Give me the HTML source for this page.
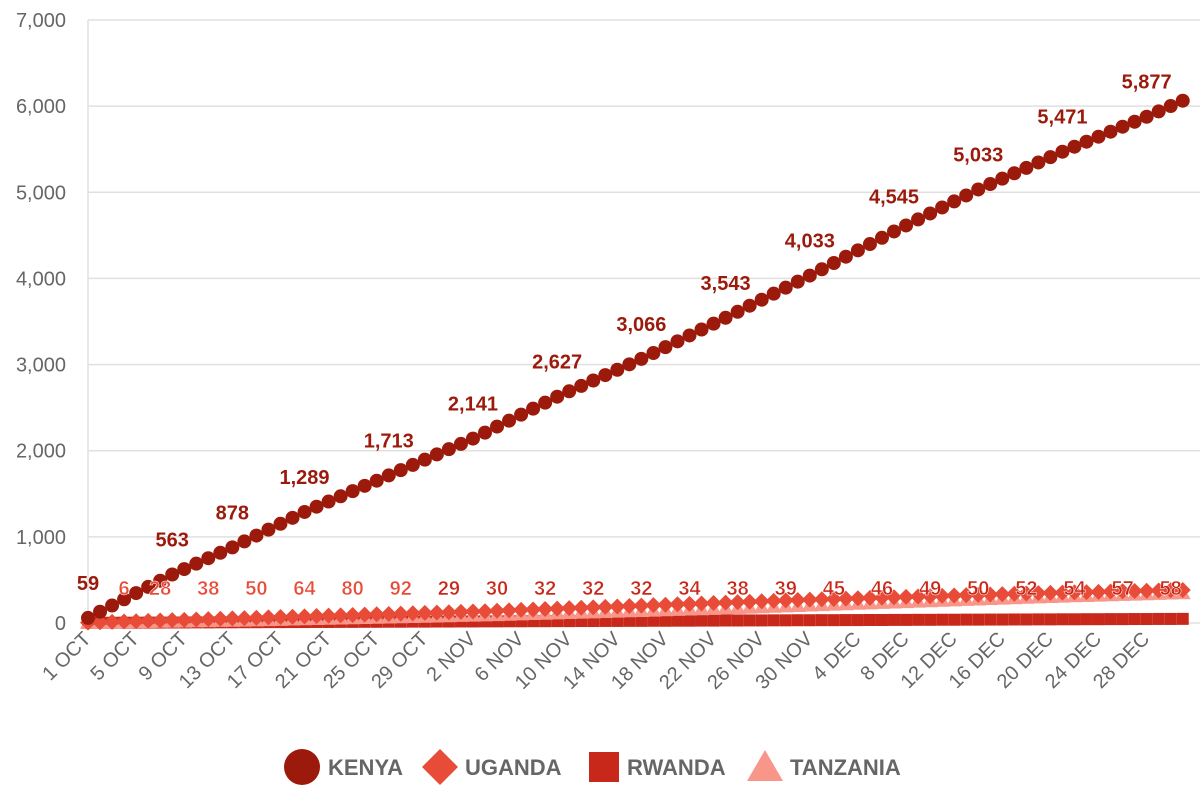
<!DOCTYPE html>
<html><head><meta charset="utf-8"><style>
html,body{margin:0;padding:0;background:#fff;}
svg{display:block;font-family:"Liberation Sans",sans-serif;}
</style></head><body>
<svg id="chart" width="1200" height="800"></svg>
<script>
const kenya=[59,131,203,275,347,419,491,563,626,689,752,815,878,947,1015,1084,1152,1221,1289,1350,1410,1471,1531,1592,1652,1713,1774,1835,1896,1957,2018,2079,2141,2210,2280,2349,2419,2488,2558,2627,2690,2752,2815,2878,2940,3003,3066,3134,3202,3270,3338,3407,3475,3543,3613,3683,3753,3823,3893,3963,4033,4106,4179,4252,4326,4399,4472,4545,4615,4685,4754,4824,4894,4963,5033,5096,5158,5221,5283,5346,5408,5471,5529,5587,5645,5703,5761,5819,5877,5939,6001,6063];
const uganda=[5,9,13,17,21,25,29,33,37,41,45,49,53,57,61,65,69,73,77,81,85,89,93,97,101,105,109,113,117,121,125,129,133,137,142,147,152,157,162,167,172,177,182,187,192,197,202,207,212,217,222,227,232,237,242,247,252,257,262,267,271,275,279,283,287,291,295,299,303,307,311,315,319,323,327,331,335,339,343,347,350,353,356,359,362,365,368,371,374,377,380,383];
const tanzania=[2,4,6,8,10,12,14,16,18,20,22,24,26,28,31,34,37,40,43,46,49,52,55,58,61,64,67,70,73,76,79,82,85,88,92,96,100,104,108,112,116,120,124,128,132,136,140,144,148,152,156,160,164,168,173,178,183,188,193,198,203,208,213,218,223,228,233,238,243,248,253,258,263,268,273,278,283,288,293,298,302,306,310,314,318,322,326,330,334,338,342,346];
const rwanda=[2,3,3,4,4,5,5,6,6,7,7,8,8,9,9,10,10,11,11,12,12,13,13,14,14,15,15,16,16,17,17,18,18,19,19,20,20,21,21,22,22,23,23,24,24,25,25,26,26,27,27,28,28,29,29,30,30,31,31,32,32,33,33,34,34,35,35,36,36,37,37,38,38,39,39,40,40,41,41,42,42,43,43,44,44,45,45,46,46,47,47,48];
const tickLabels=["1 OCT","5 OCT","9 OCT","13 OCT","17 OCT","21 OCT","25 OCT","29 OCT","2 NOV","6 NOV","10 NOV","14 NOV","18 NOV","22 NOV","26 NOV","30 NOV","4 DEC","8 DEC","12 DEC","16 DEC","20 DEC","24 DEC","28 DEC"];
const yTicks=[0,1000,2000,3000,4000,5000,6000,7000];
const kenyaLabelDays=[0,7,12,18,25,32,39,46,53,60,67,74,81,88];
const kenyaLabelValues=[59,563,878,1289,1713,2141,2627,3066,3543,4033,4545,5033,5471,5877];
const otherLabelDays=[3,6,10,14,18,22,26,30,34,38,42,46,50,54,58,62,66,70,74,78,82,86,90];
const otherLabelValues=[6,28,38,50,64,80,92,29,30,32,32,32,34,38,39,45,46,49,50,52,54,57,58];
const otherLabelSeries=["u","u","u","u","u","u","u","r","r","r","r","r","r","r","r","r","r","r","r","r","r","r","r"];

const C={k:"#9b1a0b",u:"#e84b37",r:"#c8281a",t:"#f8968a"};
const svg=document.getElementById('chart');
const NS="http://www.w3.org/2000/svg";
const X=d=>88+d*12.03;
const Y=v=>623-v*(603/7000);
function mk(tag,attrs,parent){const e=document.createElementNS(NS,tag);for(const k in attrs)e.setAttribute(k,attrs[k]);(parent||svg).appendChild(e);return e;}
const fmt=v=>v.toLocaleString('en-US');

// grid
const grid=mk('g',{});


yTicks.forEach(v=>{
  const l=mk('line',{x1:88,x2:1200,y1:Y(v),y2:Y(v),stroke:"#e0e0e0","stroke-width":1.5},grid);
  
  
  const t=mk('text',{x:66,y:Y(v)+7,"text-anchor":"end","font-size":20,fill:"#666"},grid);
  t.textContent=fmt(v);
  
  
});
const ax=mk('line',{x1:88,x2:88,y1:20,y2:623,stroke:"#e0e0e0","stroke-width":1.5});


tickLabels.forEach((s,i)=>{
  const x=X(i*4);
  const t=mk('text',{x:0,y:0,"text-anchor":"end","font-size":20,fill:"#666",transform:`translate(${x+4},${640}) rotate(-45)`});
  t.textContent=s;
  
  
});

function series(arr,name,draw){
  const g=mk('g',{});
  
  
  arr.forEach((v,i)=>{const e=draw(X(i),Y(v),g);
    
    });
}
series(rwanda,'rwanda',(x,y,g)=>mk('rect',{x:x-6,y:y-6,width:12,height:12,fill:C.r},g));
series(tanzania,'tanzania',(x,y,g)=>mk('polygon',{points:`${x},${y-8} ${x+8},${y+6} ${x-8},${y+6}`,fill:C.t},g));
series(uganda,'uganda',(x,y,g)=>mk('polygon',{points:`${x},${y-8} ${x+8},${y} ${x},${y+8} ${x-8},${y}`,fill:C.u},g));
series(kenya,'kenya',(x,y,g)=>mk('circle',{cx:x,cy:y,r:7,fill:C.k},g));

kenyaLabelDays.forEach((d,i)=>{
  const t=mk('text',{x:X(d),y:Y(kenyaLabelValues[i])-28,"text-anchor":"middle","font-size":20,"font-weight":"bold",fill:C.k});
  t.textContent=fmt(kenyaLabelValues[i]);
  
  
});
otherLabelDays.forEach((d,i)=>{
  const t=mk('text',{x:X(d),y:595,"text-anchor":"middle","font-size":20,"font-weight":"bold",fill:C[otherLabelSeries[i]],stroke:"#fff","stroke-width":0.5});
  t.textContent=otherLabelValues[i];
  
  
});

// legend
const leg=mk('g',{});


const items=[["KENYA",302,328,"c",C.k],["UGANDA",440,465,"d",C.u],["RWANDA",604,627,"s",C.r],["TANZANIA",765,790,"t",C.t]];
items.forEach(([lab,mx,tx,sh,col])=>{
  const gi=mk('g',{},leg);
  
  
  const y=767;
  if(sh==="c")mk('circle',{cx:mx,cy:y,r:18,fill:col},gi);
  if(sh==="d")mk('polygon',{points:`${mx},${y-18} ${mx+18},${y} ${mx},${y+18} ${mx-18},${y}`,fill:col},gi);
  if(sh==="s")mk('rect',{x:mx-15,y:y-15,width:30,height:30,fill:col},gi);
  if(sh==="t")mk('polygon',{points:`${mx},${y-17} ${mx+18},${y+14} ${mx-18},${y+14}`,fill:col},gi);
  const t=mk('text',{x:tx,y:y+8,"font-size":22,"font-weight":"bold",fill:"#666"},gi);
  t.textContent=lab;
});
</script>
</body></html>
